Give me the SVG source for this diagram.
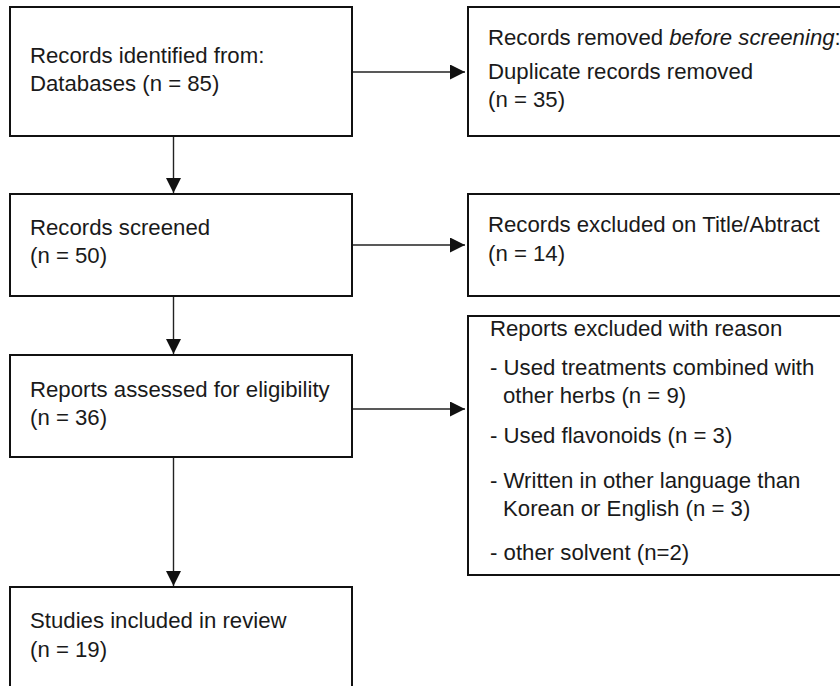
<svg xmlns="http://www.w3.org/2000/svg" width="840" height="686" viewBox="0 0 840 686">
<defs>
<style>
.box{fill:#fff;stroke:#111;stroke-width:2}
.t{font-family:"Liberation Sans",Arial,sans-serif;font-size:22.2px;fill:#1a1a1a}
.c{stroke:#222;stroke-width:1.4;fill:none}
</style>
<marker id="ah" markerUnits="userSpaceOnUse" markerWidth="15" markerHeight="15" refX="15" refY="7.5" orient="auto">
<path d="M0,0 L15,7.5 L0,15 Z" fill="#111"/>
</marker>
</defs>
<rect width="840" height="686" fill="#fff"/>
<g id="connectors">
<line class="c" x1="173.5" y1="137" x2="173.5" y2="193" marker-end="url(#ah)"/>
<line class="c" x1="173.5" y1="297" x2="173.5" y2="354" marker-end="url(#ah)"/>
<line class="c" x1="173.5" y1="458" x2="173.5" y2="586" marker-end="url(#ah)"/>
<line class="c" x1="353" y1="72" x2="465" y2="72" marker-end="url(#ah)"/>
<line class="c" x1="353" y1="245" x2="465" y2="245" marker-end="url(#ah)"/>
<line class="c" x1="353" y1="409" x2="465" y2="409" marker-end="url(#ah)"/>
</g>
<g id="identified">
<rect class="box" x="10" y="7" width="342" height="129"/>
<text class="t" x="30" y="63">Records identified from:</text>
<text class="t" x="30" y="91">Databases (n = 85)</text>
</g>
<g id="removed">
<rect class="box" x="468" y="7" width="390" height="129"/>
<text class="t" x="488" y="45">Records removed <tspan font-style="italic">before screening</tspan>:</text>
<text class="t" x="488" y="79">Duplicate records removed</text>
<text class="t" x="488" y="107">(n = 35)</text>
</g>
<g id="screened">
<rect class="box" x="10" y="194" width="342" height="102"/>
<text class="t" x="30" y="235">Records screened</text>
<text class="t" x="30" y="263">(n = 50)</text>
</g>
<g id="excluded">
<rect class="box" x="468" y="194" width="390" height="102"/>
<text class="t" x="488" y="232">Records excluded on Title/Abtract</text>
<text class="t" x="488" y="261">(n = 14)</text>
</g>
<g id="assessed">
<rect class="box" x="10" y="355" width="342" height="102"/>
<text class="t" x="30" y="397">Reports assessed for eligibility</text>
<text class="t" x="30" y="425">(n = 36)</text>
</g>
<g id="reasons">
<rect class="box" x="468" y="316" width="390" height="259"/>
<text class="t" x="490" y="336">Reports excluded with reason</text>
<text class="t" x="490" y="375">- Used treatments combined with</text>
<text class="t" x="503" y="403">other herbs (n = 9)</text>
<text class="t" x="490" y="443">- Used flavonoids (n = 3)</text>
<text class="t" x="490" y="488">- Written in other language than</text>
<text class="t" x="503" y="516">Korean or English (n = 3)</text>
<text class="t" x="490" y="560">- other solvent (n=2)</text>
</g>
<g id="included">
<rect class="box" x="10" y="587" width="342" height="120"/>
<text class="t" x="30" y="628">Studies included in review</text>
<text class="t" x="30" y="657">(n = 19)</text>
</g>
</svg>
